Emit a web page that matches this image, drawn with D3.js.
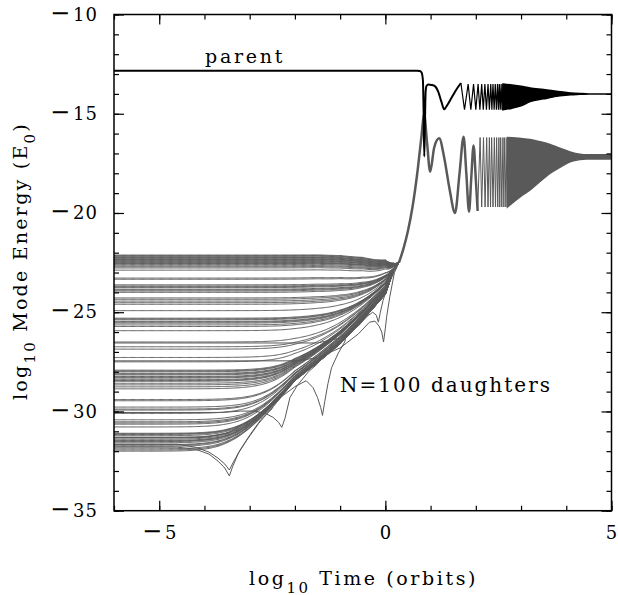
<!DOCTYPE html>
<html>
<head>
<meta charset="utf-8">
<script src="https://cdn.jsdelivr.net/npm/d3@7"></script>
<style>
  body { margin: 0; background: #fff; }
  svg text { font-family: "DejaVu Serif", serif; fill: #000; }
</style>
</head>
<body>
<div id="chart"></div>
<script>
// ticks
const xMajorTicks = [-5, 0, 5];
const xMinorTicks = [-6, -5, -4, -3, -2, -1, 0, 1, 2, 3, 4, 5];
const yMajorTicks = [-35, -30, -25, -20, -15, -10];
const yMinorTicks = [-35, -34, -33, -32, -31, -30, -29, -28, -27, -26, -25, -24, -23, -22,
                     -21, -20, -19, -18, -17, -16, -15, -14, -13, -12, -11, -10];

// parent mode (log10 time, log10 energy)
const parentT = [-6, 0.70, 0.76, 0.80, 0.83, 0.845, 0.86, 0.875, 0.89, 0.91, 0.95, 1.02, 1.10, 1.17, 1.24, 1.30, 1.36, 1.45, 1.55, 1.67];
const parentE = [-12.83, -12.83, -12.85, -12.92, -13.3, -14.8, -17.15, -15.5, -13.9, -13.6, -13.53, -13.55, -13.62, -13.9, -14.4, -14.78, -14.6, -14.25, -13.85, -13.45];
const parentPeaks = [1.83, 1.95, 2.05, 2.13, 2.20, 2.27, 2.33, 2.38, 2.43, 2.48, 2.52, 2.56, 2.60];
const parentTroughs = [1.75, 1.89, 2.00, 2.09, 2.165, 2.235, 2.30, 2.355, 2.405, 2.455, 2.50, 2.54, 2.58];
const parentEnvT = [2.6, 2.8, 3.0, 3.2, 3.5, 3.86, 4.1, 4.3, 4.5, 5.0];
const parentEnvHi = [-13.5, -13.55, -13.62, -13.7, -13.78, -13.89, -13.95, -13.98, -14.0, -14.0];
const parentEnvLo = [-14.8, -14.72, -14.6, -14.39, -14.25, -14.1, -14.04, -14.02, -14.0, -14.0];

// daughters: initial energies of the flat parts
const daughterLevels = [
  -22.12, -22.15, -22.18, -22.22, -22.25, -22.27, -22.31, -22.34, -22.36, -22.40,
  -22.43, -22.46, -22.50, -22.53, -22.55, -22.60, -22.66, -22.71, -22.77, -22.88,
  -23.28, -23.34,
  -23.62, -23.68, -23.72, -23.76, -23.84, -23.88, -23.93, -24.00,
  -24.28, -24.35, -24.44, -24.52, -24.60,
  -24.92,
  -25.30, -25.34, -25.38, -25.46, -25.50, -25.55, -25.64, -25.72,
  -25.93,
  -26.50, -26.74, -26.86,
  -27.28, -27.50,
  -27.92, -27.96, -28.00, -28.08, -28.12, -28.16, -28.24, -28.28, -28.32, -28.40,
  -28.44, -28.48, -28.58, -28.66, -28.76, -28.86,
  -29.40, -29.46,
  -29.78, -29.88, -29.93, -30.10,
  -30.42, -30.52, -30.58, -30.64, -30.78,
  -31.10, -31.13, -31.16, -31.22, -31.31, -31.34, -31.40, -31.46, -31.49, -31.52,
  -31.58, -31.67, -31.70, -31.76, -31.88, -31.94, -32.00
];
// growth fan (lower and upper edge)
const bundleT = [-5.0, -4.0, -3.5, -3.0, -2.5, -2.0, -1.5, -1.0, -0.5, 0.0, 0.18, 0.3];
const bundleLo = [-37.0, -33.8, -32.4, -31.1, -29.8, -28.45, -27.55, -26.6, -25.4, -24.1, -22.9, -22.5];
const bundleHi = [-35.0, -32.0, -30.8, -29.6, -28.4, -27.2, -26.2, -25.2, -24.3, -23.3, -22.9, -22.5];
const decayT = [-1.5, -1.0, -0.5, 0.0, 0.18, 0.3];
const decayE = [0, -0.05, -0.2, -0.6, -1.3, -2.5];
// daughters whose amplitude passes through zero
const cuspA = [[-6, -31.8], [-4.6, -31.8], [-4.2, -31.9], [-3.9, -32.15], [-3.7, -32.5], [-3.55, -32.85], [-3.45, -33.25], [-3.38, -32.8], [-3.25, -32.1], [-3.05, -31.4], [-2.8, -30.6], [-2.5, -29.8]];
const cuspB = [[-6, -31.65], [-4.6, -31.65], [-4.2, -31.8], [-3.9, -32.05], [-3.7, -32.35], [-3.55, -32.65], [-3.45, -32.95], [-3.36, -32.55], [-3.2, -31.9], [-3.0, -31.2], [-2.75, -30.4], [-2.5, -29.85]];
const cuspC = [[-6, -30.05], [-3.6, -30.05], [-3.2, -29.98], [-2.9, -29.98], [-2.65, -30.1], [-2.48, -30.3], [-2.36, -30.55], [-2.29, -30.8], [-2.22, -30.35], [-2.11, -29.3], [-1.95, -28.7], [-1.7, -28.0], [-1.5, -27.6]];
const cuspD = [[-6, -31.3], [-4.0, -31.3], [-3.5, -31.1], [-3.0, -30.5], [-2.5, -29.6], [-2.0, -28.75], [-1.75, -28.45], [-1.6, -28.8], [-1.5, -29.3], [-1.43, -29.8], [-1.39, -30.2], [-1.34, -29.5], [-1.27, -28.6], [-1.19, -27.8], [-1.05, -27.1], [-0.9, -26.5]];
const cuspE = [[-6, -27.45], [-2.0, -27.45], [-1.5, -27.3], [-1.0, -26.8], [-0.6, -26.1], [-0.35, -25.5], [-0.23, -25.45], [-0.14, -25.7], [-0.08, -26.0], [-0.04, -26.5], [0.0, -25.8], [0.03, -25.2], [0.1, -24.2], [0.2, -23.0], [0.3, -22.5]];
const cuspF = [[-6, -26.55], [-1.5, -26.55], [-1.0, -26.3], [-0.6, -25.7], [-0.4, -25.2], [-0.28, -25.0], [-0.2, -25.15], [-0.155, -25.5], [-0.11, -25.0], [-0.05, -24.4], [0.05, -23.7], [0.2, -22.95], [0.3, -22.5]];
// common daughter track after they lock together
const commonT = [0.3, 0.4, 0.5, 0.6, 0.7, 0.8, 0.856, 0.92, 0.99, 1.08, 1.19, 1.3, 1.42, 1.54, 1.64, 1.73, 1.79, 1.85, 1.90, 1.95, 2.00, 2.04];
const commonE = [-22.5, -21.8, -20.9, -19.7, -18.1, -16.1, -15.0, -16.4, -17.92, -16.7, -16.24, -17.2, -18.8, -20.0, -18.0, -16.16, -18.0, -19.93, -18.2, -16.6, -18.3, -19.9];
const daughterPeaks = [2.095, 2.17, 2.24, 2.30, 2.35, 2.41, 2.46, 2.51, 2.55, 2.60, 2.64, 2.69];
const daughterTroughs = [2.13, 2.205, 2.27, 2.325, 2.38, 2.435, 2.485, 2.53, 2.575, 2.62, 2.665, 2.70];
const daughterEnvT = [2.70, 3.0, 3.2, 3.4, 3.64, 3.86, 4.08, 4.3, 4.45, 5.0];
const daughterEnvHi = [-16.2, -16.25, -16.3, -16.4, -16.55, -16.74, -16.92, -17.04, -17.07, -17.07];
const daughterEnvLo = [-19.7, -19.15, -18.84, -18.45, -18.0, -17.7, -17.42, -17.3, -17.28, -17.28];

const width = 618, height = 595;
const margin = { top: 14.5, right: 6.5, bottom: 84.3, left: 114 };
const grey = "#595959";

const svg = d3.select("#chart").append("svg")
    .attr("width", width)
    .attr("height", height);

const x = d3.scaleLinear().domain([-6, 5]).range([margin.left, width - margin.right]);
const y = d3.scaleLinear().domain([-35, -10]).range([height - margin.bottom, margin.top]);

// clamped lookup in a read-off table
function lookup(T, V, t) {
    if (t <= T[0]) return V[0];
    if (t >= T[T.length - 1]) return V[V.length - 1];
    const i = d3.bisectRight(T, t);
    const f = (t - T[i - 1]) / (T[i] - T[i - 1]);
    return V[i - 1] + f * (V[i] - V[i - 1]);
}

svg.append("clipPath").attr("id", "plotclip")
    .append("rect")
    .attr("x", x(-6)).attr("y", y(-10))
    .attr("width", x(5) - x(-6)).attr("height", y(-35) - y(-10));

const plot = svg.append("g").attr("clip-path", "url(#plotclip)");
const line = d3.line().x(d => x(d[0])).y(d => y(d[1]));

// daughters before locking
const tGrid = d3.range(-6, 0.3001, 0.02);
function daughterPath(L) {
    const w = Math.max(0, Math.min(1, (L + 32) / 10));
    return tGrid.map(t => {
        const Ld = L + lookup(decayT, decayE, t);
        if (t < bundleT[0]) return [t, Ld];
        const lo = lookup(bundleT, bundleLo, t);
        const g = lo + w * (lookup(bundleT, bundleHi, t) - lo);
        return [t, 2 * Math.log10(Math.pow(10, Ld / 2) + Math.pow(10, g / 2))];
    });
}
function cuspPath(pts) {
    const last = pts[pts.length - 1][0];
    return pts.concat(tGrid.filter(t => t > last + 1e-9).map(t => [t, lookup(bundleT, bundleLo, t)]));
}

plot.selectAll(".daughter")
    .data(daughterLevels.map(daughterPath))
    .enter()
    .append("path")
    .attr("class", "daughter")
    .attr("d", line)
    .attr("fill", "none")
    .attr("stroke", grey)
    .attr("stroke-width", 1);

plot.selectAll(".cusp")
    .data([cuspA, cuspB, cuspC, cuspD, cuspE, cuspF].map(cuspPath))
    .enter()
    .append("path")
    .attr("class", "cusp")
    .attr("d", line)
    .attr("fill", "none")
    .attr("stroke", grey)
    .attr("stroke-width", 1);

// common daughter track
plot.append("path")
    .attr("d", line.curve(d3.curveMonotoneX)(commonT.map((t, i) => [t, commonE[i]])))
    .attr("fill", "none")
    .attr("stroke", grey)
    .attr("stroke-width", 2.5);
line.curve(d3.curveLinear);

function zigzag(startPt, peaks, troughs, envT, envHi, envLo) {
    const ext = peaks.map(t => [t, lookup(envT, envHi, t)])
        .concat(troughs.map(t => [t, lookup(envT, envLo, t)]))
        .sort((a, b) => a[0] - b[0]);
    return [startPt].concat(ext);
}

plot.append("path")
    .attr("d", line(zigzag([commonT[commonT.length - 1], commonE[commonE.length - 1]],
        daughterPeaks, daughterTroughs, daughterEnvT, daughterEnvHi, daughterEnvLo)))
    .attr("fill", "none")
    .attr("stroke", grey)
    .attr("stroke-width", 1);

const band = d3.area()
    .x(d => x(d[0]))
    .y0(d => y(d[1]))
    .y1(d => y(d[2]))
    .curve(d3.curveMonotoneX);

plot.append("path")
    .attr("d", band(daughterEnvT.map((t, i) => [t, daughterEnvLo[i], daughterEnvHi[i]])))
    .attr("fill", grey)
    .attr("stroke", grey)
    .attr("stroke-width", 1.5);

// parent
plot.append("path")
    .attr("d", line.curve(d3.curveMonotoneX)(parentT.map((t, i) => [t, parentE[i]])))
    .attr("fill", "none")
    .attr("stroke", "#000")
    .attr("stroke-width", 2);
line.curve(d3.curveLinear);

plot.append("path")
    .attr("d", line(zigzag([parentT[parentT.length - 1], parentE[parentE.length - 1]],
        parentPeaks, parentTroughs, parentEnvT, parentEnvHi, parentEnvLo)))
    .attr("fill", "none")
    .attr("stroke", "#000")
    .attr("stroke-width", 1.2);

plot.append("path")
    .attr("d", band(parentEnvT.map((t, i) => [t, parentEnvLo[i], parentEnvHi[i]])))
    .attr("fill", "#000")
    .attr("stroke", "#000")
    .attr("stroke-width", 1.5);

// axes: ticks pointing inwards on all four sides
function styleAxis(g) {
    g.select(".domain").remove();
    g.selectAll(".tick line").attr("stroke", "#000").attr("stroke-width", 1.2);
    g.selectAll(".tick text")
        .attr("font-size", "18px")
        .attr("letter-spacing", "1px")
        .style("font-family", "'DejaVu Serif', serif")
        .each(function (d) {
            if (d >= 0 || this.textContent === "") return;
            const t = d3.select(this).text(null);
            t.append("tspan").attr("font-size", "24px").attr("letter-spacing", "3px").text("\u2212");
            t.append("tspan").text(Math.abs(d));
        });
}
svg.append("g").attr("transform", `translate(0,${y(-35)})`)
    .call(d3.axisBottom(x).tickValues(xMinorTicks).tickSize(-5).tickFormat(""))
    .call(styleAxis);
svg.append("g").attr("transform", `translate(0,${y(-35)})`)
    .call(d3.axisBottom(x).tickValues(xMajorTicks).tickSize(-10).tickPadding(16).tickFormat(d3.format("d")))
    .call(styleAxis);
svg.append("g").attr("transform", `translate(0,${y(-10)})`)
    .call(d3.axisTop(x).tickValues(xMinorTicks).tickSize(-5).tickFormat(""))
    .call(styleAxis);
svg.append("g").attr("transform", `translate(0,${y(-10)})`)
    .call(d3.axisTop(x).tickValues(xMajorTicks).tickSize(-10).tickFormat(""))
    .call(styleAxis);
svg.append("g").attr("transform", `translate(${x(-6)},0)`)
    .call(d3.axisLeft(y).tickValues(yMinorTicks).tickSize(-5).tickFormat(""))
    .call(styleAxis);
svg.append("g").attr("transform", `translate(${x(-6)},0)`)
    .call(d3.axisLeft(y).tickValues(yMajorTicks).tickSize(-10).tickPadding(16).tickFormat(d3.format("d")))
    .call(styleAxis);
svg.append("g").attr("transform", `translate(${x(5)},0)`)
    .call(d3.axisRight(y).tickValues(yMinorTicks).tickSize(-5).tickFormat(""))
    .call(styleAxis);
svg.append("g").attr("transform", `translate(${x(5)},0)`)
    .call(d3.axisRight(y).tickValues(yMajorTicks).tickSize(-10).tickFormat(""))
    .call(styleAxis);

svg.append("rect")
    .attr("x", x(-6)).attr("y", y(-10))
    .attr("width", x(5) - x(-6)).attr("height", y(-35) - y(-10))
    .attr("fill", "none")
    .attr("stroke", "#000")
    .attr("stroke-width", 1.5);

// stretch a label to the width it has in the figure
function fitText(sel, target) {
    const n = sel.node();
    const w = n.getComputedTextLength();
    const chars = n.textContent.length;
    sel.attr("letter-spacing", (target - w) / chars);
}

const parentLabel = svg.append("text")
    .attr("x", 205).attr("y", 63)
    .attr("font-size", "19px")
    .text("parent");
fitText(parentLabel, 80);

const nLabel = svg.append("text")
    .attr("x", 340).attr("y", 392)
    .attr("font-size", "20px")
    .text("N=100 daughters");
fitText(nLabel, 212);

const xTitle = svg.append("text")
    .attr("x", 249).attr("y", 585)
    .attr("font-size", "19px");
xTitle.append("tspan").text("log");
xTitle.append("tspan").attr("font-size", "15px").attr("dy", 7.5).text("10");
xTitle.append("tspan").attr("dy", -7.5).text(" Time (orbits)");
fitText(xTitle, 229);

const yTitle = svg.append("text")
    .attr("transform", "translate(27,400) rotate(-90)")
    .attr("font-size", "19px");
yTitle.append("tspan").text("log");
yTitle.append("tspan").attr("font-size", "15px").attr("dy", 7.5).text("10");
yTitle.append("tspan").attr("dy", -7.5).text(" Mode Energy (E");
yTitle.append("tspan").attr("font-size", "15px").attr("dy", 7.5).text("0");
yTitle.append("tspan").attr("dy", -7.5).text(")");
fitText(yTitle, 278);
</script>
</body>
</html>
